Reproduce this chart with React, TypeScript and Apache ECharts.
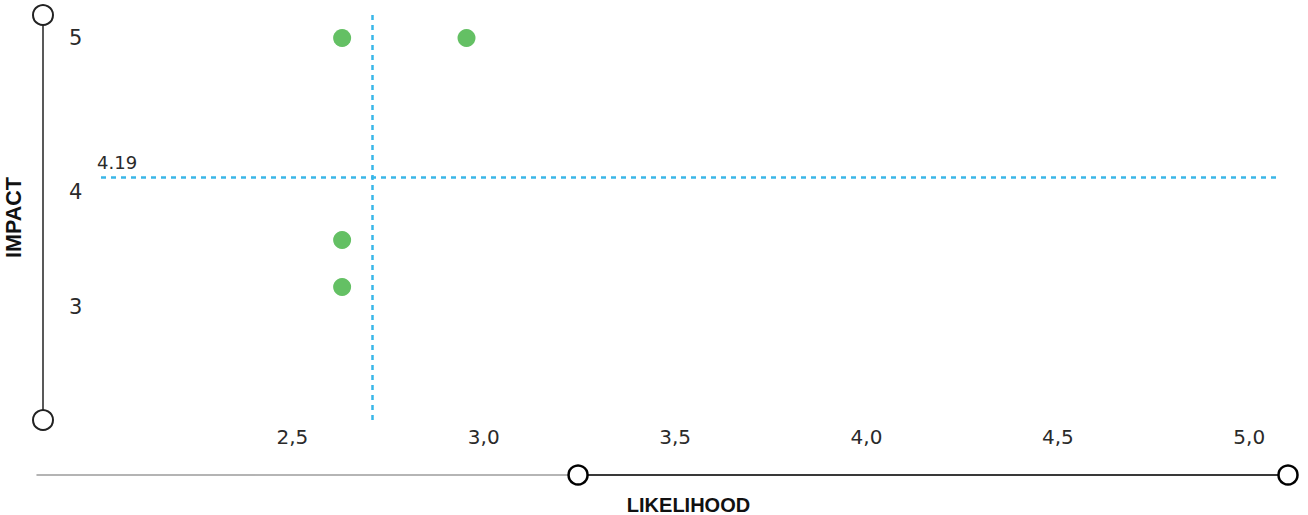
import React, { useEffect, useRef } from "react";
import * as echarts from "echarts";

// Data
const likelihood = [2.63, 2.955, 2.63, 2.63];
const impact = [5, 5, 3.823, 3.549];
const meanLikelihood = 2.71;
const meanImpact = 4.19;
const likelihoodRange = [2, 5.07];
const impactRange = [2.774, 5.134];
const impactTickValues = [5.0, 4.1, 3.43];
const likelihoodTrack = [0.4325, 1];

export default function App() {
  const ref = useRef<HTMLDivElement>(null);
  useEffect(() => {
    document.body.style.margin = "0";
    document.body.style.overflow = "hidden";
    const chart = echarts.init(ref.current!, null, { renderer: "svg" });
    const font = '"Liberation Sans", Arial, sans-serif';
    const numFont = '"DejaVu Sans", "Liberation Sans", sans-serif';
    const points = likelihood.map((x, i) => [x, impact[i]]);
    chart.setOption({
      animation: false,
      textStyle: { fontFamily: font },
      grid: [
        { left: 101, right: 32, top: 15, bottom: 95, outerBoundsMode: "none", containLabel: false },
        { left: 37, right: 20, top: 465, height: 10, outerBoundsMode: "none", containLabel: false },
      ],
      xAxis: [
        {
          type: "value",
          gridIndex: 0,
          min: likelihoodRange[0],
          max: likelihoodRange[1],
          interval: 0.5,
          axisLine: { show: false },
          axisTick: { show: false },
          splitLine: { show: false },
          axisLabel: {
            showMinLabel: false,
            showMaxLabel: false,
            margin: 7,
            fontSize: 20,
            color: "#2a2a2a",
            fontFamily: numFont,
            formatter: (v: number) => v.toFixed(1).replace(".", ","),
          },
          name: "LIKELIHOOD",
          nameLocation: "middle",
          nameGap: 75,
          nameTextStyle: { fontSize: 20, fontWeight: "bold", color: "#111", fontFamily: font },
        },
        {
          type: "value",
          gridIndex: 1,
          min: 0,
          max: 1,
          axisLine: { show: true, onZero: false, lineStyle: { color: "#9c9c9c", width: 1.5 } },
          axisTick: { show: false },
          axisLabel: { show: false },
          splitLine: { show: false },
        },
      ],
      yAxis: [
        {
          type: "value",
          gridIndex: 0,
          min: impactRange[0],
          max: impactRange[1],
          position: "left",
          offset: 58,
          axisLine: {
            show: true,
            onZero: false,
            symbol: ["emptyCircle", "emptyCircle"],
            symbolSize: [20, 20],
            lineStyle: { color: "#222", width: 1.5 },
          },
          axisTick: { show: false },
          splitLine: { show: false },
          axisLabel: {
            inside: true,
            margin: 26,
            fontSize: 21,
            color: "#2a2a2a",
            fontFamily: numFont,
            customValues: impactTickValues,
            formatter: (v: number) => String(Math.round(v)),
          },
          name: "IMPACT",
          nameLocation: "middle",
          nameRotate: 90,
          nameGap: 18,
          nameTextStyle: { fontSize: 21.5, fontWeight: "bold", color: "#111", fontFamily: font },
        },
        { type: "value", gridIndex: 1, min: 0, max: 1, show: false },
      ],
      series: [
        {
          type: "scatter",
          xAxisIndex: 0,
          yAxisIndex: 0,
          data: points,
          symbolSize: 18,
          itemStyle: { color: "#64c064", opacity: 1 },
          markLine: {
            silent: true,
            symbol: ["none", "none"],
            lineStyle: { type: [5, 5], color: "#3ab6e8", width: 2.5 },
            data: [
              { xAxis: meanLikelihood, label: { show: false } },
              {
                yAxis: meanImpact,
                label: {
                  show: true,
                  position: "insideStartTop",
                  distance: [-4, 6],
                  fontSize: 18,
                  color: "#2a2a2a",
                  fontFamily: numFont,
                  formatter: String(meanImpact),
                },
              },
            ],
          },
        },
        {
          type: "line",
          xAxisIndex: 1,
          yAxisIndex: 1,
          data: likelihoodTrack.map((x) => [x, 0]),
          symbol: "circle",
          symbolSize: 19,
          showSymbol: true,
          clip: false,
          silent: true,
          itemStyle: { color: "#fff", borderColor: "#000", borderWidth: 2.5 },
          lineStyle: { color: "#111", width: 1.5 },
        },
      ],
    });
    return () => chart.dispose();
  }, []);
  return <div ref={ref} style={{ width: 1308, height: 515 }} />;
}
